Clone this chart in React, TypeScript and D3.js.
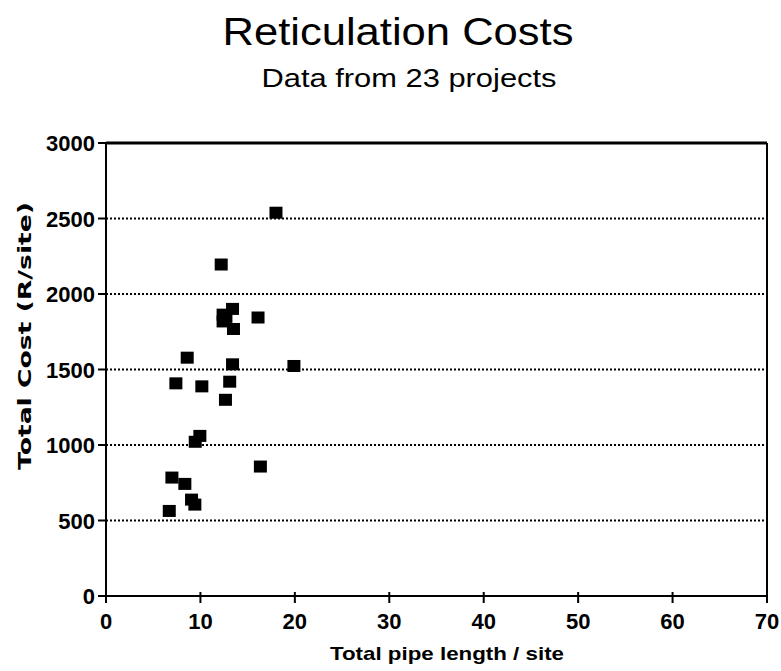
import React from "react";
import * as d3 from "d3";

const pipeLength: number[] = [18.0, 12.2, 16.1, 13.4, 12.4, 12.4, 12.7, 13.5, 8.6, 13.4, 19.9, 7.4, 10.15, 13.1, 12.65, 9.94, 9.45, 16.35, 6.98, 8.35, 9.06, 9.41, 6.7];
const totalCost: number[] = [2535, 2192, 1841, 1898, 1860, 1815, 1845, 1765, 1575, 1531, 1520, 1405, 1385, 1416, 1296, 1057, 1018, 854, 781, 739, 635, 602, 560];
const xTicks: number[] = [0, 10, 20, 30, 40, 50, 60, 70];
const yTicks: number[] = [0, 500, 1000, 1500, 2000, 2500, 3000];
const gridValues: number[] = [500, 1000, 1500, 2000, 2500];

const title = "Reticulation Costs";
const subtitle = "Data from 23 projects";
const xTitle = "Total pipe length / site";
const yTitle = "Total Cost (R/site)";

export default function App() {
  const W = 781, H = 671;
  const left = 106, right = 767, top = 143, bottom = 596;
  const x = d3.scaleLinear().domain([0, 70]).range([left, right]);
  const y = d3.scaleLinear().domain([0, 3000]).range([bottom, top]);
  const sq = 13;
  const font = "'Liberation Sans', Arial, Helvetica, sans-serif";
  return (
    <svg width={W} height={H} style={{ position: "absolute", left: 0, top: 0, background: "#fff" }}>
      <rect x={0} y={0} width={W} height={H} fill="#fff" />
      <text x={398} y={45} textAnchor="middle" fontFamily={font} fontSize={38} textLength={351} lengthAdjust="spacingAndGlyphs" fill="#000">{title}</text>
      <text x={409} y={87} textAnchor="middle" fontFamily={font} fontSize={26} textLength={295} lengthAdjust="spacingAndGlyphs" fill="#000">{subtitle}</text>

      {gridValues.map((v) => (
        <line key={"g" + v} x1={left} x2={right} y1={y(v)} y2={y(v)} stroke="#000" strokeWidth={2} strokeDasharray="2 2" />
      ))}

      <line x1={left} x2={right} y1={top} y2={top} stroke="#000" strokeWidth={3} />
      <line x1={right} x2={right} y1={top} y2={bottom} stroke="#000" strokeWidth={2} />
      <line x1={left} x2={right} y1={bottom} y2={bottom} stroke="#000" strokeWidth={2} />
      <line x1={left} x2={left} y1={top} y2={bottom} stroke="#000" strokeWidth={2} />

      {yTicks.map((v) => (
        <g key={"y" + v}>
          <line x1={98} x2={left} y1={y(v)} y2={y(v)} stroke="#000" strokeWidth={2} />
          <text x={95} y={y(v) + 8} textAnchor="end" fontFamily={font} fontWeight="bold" fontSize={22} fill="#000">{v}</text>
        </g>
      ))}
      {xTicks.map((v) => (
        <g key={"x" + v}>
          <line x1={x(v)} x2={x(v)} y1={bottom - 4} y2={bottom + 7} stroke="#000" strokeWidth={2} />
          <text x={x(v)} y={629} textAnchor="middle" fontFamily={font} fontWeight="bold" fontSize={22} fill="#000">{v}</text>
        </g>
      ))}

      <text x={447} y={660} textAnchor="middle" fontFamily={font} fontWeight="bold" fontSize={19} textLength={234} lengthAdjust="spacingAndGlyphs" fill="#000">{xTitle}</text>
      <text transform={`translate(31,336) rotate(-90)`} textAnchor="middle" fontFamily="'DejaVu Sans', sans-serif" fontWeight="bold" fontSize={18} textLength={268} lengthAdjust="spacingAndGlyphs" fill="#000">{yTitle}</text>

      {pipeLength.map((v, i) => (
        <rect key={"p" + i} x={x(v) - sq / 2} y={y(totalCost[i]) - sq / 2} width={sq} height={sq - 1} fill="#000" />
      ))}
    </svg>
  );
}
